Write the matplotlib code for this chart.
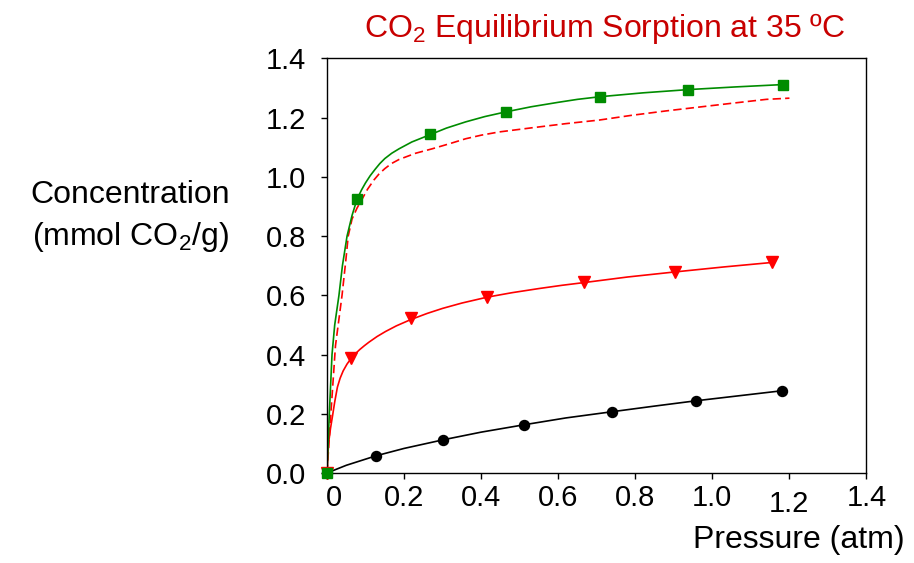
import matplotlib
matplotlib.use('Agg')
import matplotlib.pyplot as plt
import matplotlib.transforms as mtransforms

plt.rcParams['font.family'] = ['Liberation Sans', 'DejaVu Sans']
plt.rcParams['mathtext.fontset'] = 'custom'
plt.rcParams['mathtext.rm'] = 'Liberation Sans'
plt.rcParams['mathtext.it'] = 'Liberation Sans:italic'

# measured points
black_x = [0, 0.127, 0.301, 0.512, 0.740, 0.958, 1.182]
black_y = [0, 0.058, 0.112, 0.163, 0.207, 0.244, 0.278]
red_x = [0, 0.062, 0.217, 0.416, 0.666, 0.902, 1.154]
red_y = [0, 0.389, 0.522, 0.595, 0.645, 0.680, 0.711]
green_x = [0, 0.078, 0.268, 0.465, 0.709, 0.938, 1.184]
green_y = [0, 0.925, 1.145, 1.220, 1.271, 1.295, 1.312]

# fitted curves
black_fit_x = [0, 0.05, 0.127, 0.2, 0.301, 0.4, 0.512, 0.62, 0.740, 0.85, 0.958, 1.07, 1.182]
black_fit_y = [0, 0.026, 0.058, 0.083, 0.112, 0.138, 0.163, 0.186, 0.207, 0.226, 0.244, 0.261, 0.278]
red_fit_x = [0, 0.004, 0.009, 0.014, 0.02, 0.027, 0.034, 0.042, 0.052, 0.062, 0.073, 0.085,
             0.097, 0.109, 0.13, 0.152, 0.18, 0.217, 0.26, 0.3, 0.35, 0.416, 0.48,
             0.55, 0.61, 0.666, 0.78, 0.902, 1.03, 1.154]
red_fit_y = [0, 0.10, 0.15, 0.19, 0.24, 0.29, 0.32, 0.345, 0.368, 0.386, 0.402, 0.417,
             0.43, 0.442, 0.461, 0.478, 0.497, 0.518, 0.539, 0.556, 0.574, 0.594, 0.609,
             0.623, 0.634, 0.643, 0.662, 0.679, 0.696, 0.711]
green_fit_x = [0, 0.006, 0.013, 0.02, 0.031, 0.04, 0.052, 0.065, 0.078, 0.09, 0.1, 0.112,
               0.125, 0.137, 0.15, 0.168, 0.187, 0.22, 0.268, 0.31, 0.36, 0.41, 0.465,
               0.53, 0.6, 0.65, 0.709, 0.82, 0.938, 1.06, 1.184]
green_fit_y = [0, 0.2, 0.4, 0.5, 0.6, 0.7, 0.8, 0.87, 0.925, 0.957, 0.98, 1.004,
               1.026, 1.045, 1.062, 1.08, 1.095, 1.118, 1.143, 1.165, 1.186, 1.204, 1.220,
               1.237, 1.252, 1.262, 1.271, 1.284, 1.295, 1.304, 1.312]
dash_x = [0, 0.01, 0.022, 0.031, 0.039, 0.049, 0.055, 0.065, 0.078, 0.091, 0.105, 0.122,
          0.135, 0.15, 0.167, 0.187, 0.23, 0.273, 0.32, 0.36, 0.4, 0.447, 0.532, 0.62,
          0.706, 0.79, 0.88, 0.966, 1.052, 1.14, 1.2]
dash_y = [0, 0.2, 0.43, 0.52, 0.6, 0.72, 0.8, 0.858, 0.895, 0.925, 0.958, 0.99,
          1.01, 1.028, 1.045, 1.059, 1.08, 1.095, 1.113, 1.129, 1.141, 1.152, 1.166, 1.18,
          1.192, 1.208, 1.223, 1.236, 1.249, 1.262, 1.266]

xticks = [0, 0.2, 0.4, 0.6, 0.8, 1.0, 1.2, 1.4]
xticklabels = ['0', '0.2', '0.4', '0.6', '0.8', '1.0', '1.2', '1.4']
yticks = [0, 0.2, 0.4, 0.6, 0.8, 1.0, 1.2, 1.4]
yticklabels = ['0.0', '0.2', '0.4', '0.6', '0.8', '1.0', '1.2', '1.4']

green = '#008c00'
red = '#ff0000'

fig = plt.figure(figsize=(9.14, 5.63), dpi=100)
ax = fig.add_axes([327/914, 1-473/563, (866.5-327)/914, (473-58.5)/563])

ax.plot(dash_x, dash_y, color=red, lw=1.2, linestyle=(0, (5, 2.5)))
ax.plot(black_fit_x, black_fit_y, color='black', lw=1.2)
ax.plot(red_fit_x, red_fit_y, color=red, lw=1.2)
ax.plot(green_fit_x, green_fit_y, color=green, lw=1.2)
ax.plot(black_x, black_y, 'o', color='black', ms=7.2, clip_on=False, zorder=5)
ax.plot(red_x, red_y, 'v', color=red, ms=8.3, clip_on=False, zorder=5)
ax.plot(green_x, green_y, 's', color=green, ms=7.3, clip_on=False, zorder=6)

ax.set_xlim(0, 1.4)
ax.set_ylim(0, 1.4)
ax.set_xticks(xticks)
ax.set_xticklabels(xticklabels)
ax.set_yticks(yticks)
ax.set_yticklabels(yticklabels)
ax.tick_params(axis='both', direction='out', length=4, width=1, labelsize=21)
ax.tick_params(axis='x', pad=4)
ax.tick_params(axis='y', pad=11)
for s in ax.spines.values():
    s.set_linewidth(1)

# odd label offsets seen in the original
labels = ax.get_xticklabels()
labels[0].set_transform(labels[0].get_transform() +
                        mtransforms.ScaledTranslation(7/100, 0, fig.dpi_scale_trans))
labels[6].set_transform(labels[6].get_transform() +
                        mtransforms.ScaledTranslation(0, -6/100, fig.dpi_scale_trans))

fig.text(605/914, 1-28/563, 'CO$_2$ Equilibrium Sorption at 35 \u00baC',
         ha='center', va='center', fontsize=23, color='#c80000')
fig.text(130/914, 1-195/563, 'Concentration', ha='center', va='center', fontsize=23)
fig.text(130/914, 1-237/563, '(mmol CO$_2$/g)', ha='center', va='center', fontsize=23)
fig.text(905/914, 1-540/563, 'Pressure (atm)', ha='right', va='center', fontsize=23)

fig.savefig('out.png', dpi=100)
